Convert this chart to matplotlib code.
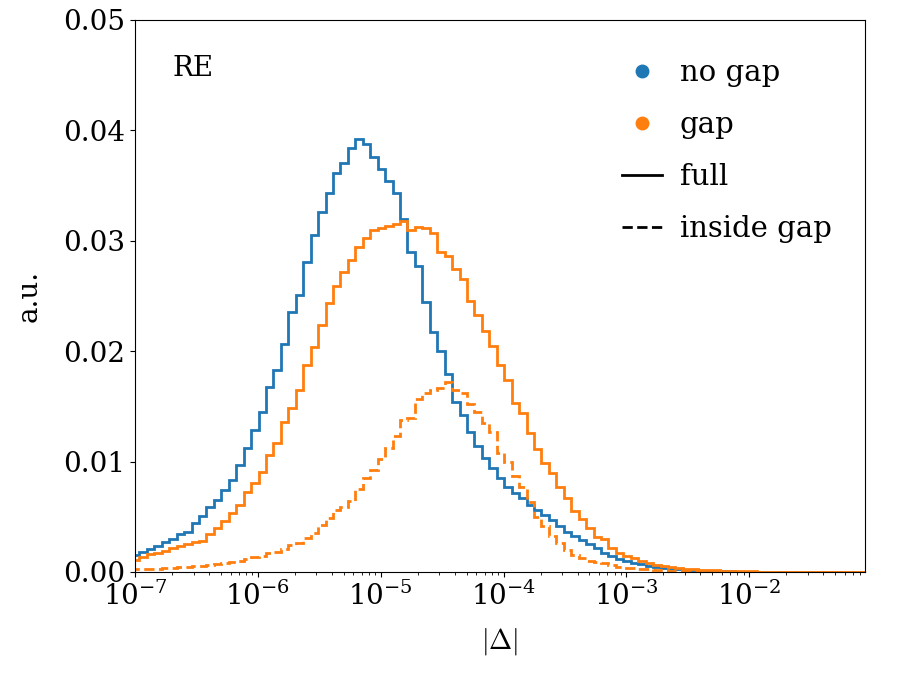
import numpy as np
import matplotlib
matplotlib.use("Agg")
import matplotlib.pyplot as plt
from matplotlib.lines import Line2D

plt.rcParams['font.family'] = ['DejaVu Serif']
plt.rcParams['mathtext.fontset'] = 'cm'
plt.rcParams['font.size'] = 20

# log10 bin edges of the histograms (99 bins)
LOG_EDGE_START = -7.024
LOG_EDGE_STEP = 0.06058
N_BINS = 99

# normalised counts per bin
no_gap_full = [
    0.00154, 0.00178, 0.00208, 0.00236, 0.00269, 0.00302, 0.00341, 0.00362, 0.00441, 0.00507,
    0.00591, 0.00649, 0.00747, 0.00829, 0.00965, 0.01120, 0.01284, 0.01447, 0.01678, 0.01830,
    0.02062, 0.02351, 0.02505, 0.02805, 0.03048, 0.03258, 0.03433, 0.03611, 0.03705, 0.03842,
    0.03918, 0.03877, 0.03756, 0.03648, 0.03542, 0.03436, 0.03195, 0.02901, 0.02769, 0.02443,
    0.02176, 0.01999, 0.01793, 0.01542, 0.01418, 0.01271, 0.01139, 0.01030, 0.00939, 0.00849,
    0.00770, 0.00713, 0.00668, 0.00607, 0.00562, 0.00516, 0.00471, 0.00417, 0.00365, 0.00326,
    0.00290, 0.00254, 0.00215, 0.00175, 0.00145, 0.00115, 0.00100, 0.00084, 0.00068, 0.00054,
    0.00043, 0.00036, 0.00030, 0.00024, 0.00020, 0.00016, 0.00013, 0.00010, 0.00008, 0.00006,
    0.00005, 0.00004, 0.00003, 0.00003, 0.00002, 0.00002, 0.00002, 0.00001, 0.00001, 0.00001,
    0.00001, 0.00001, 0.00001, 0.00000, 0.00000, 0.00000, 0.00000, 0.00000, 0.00000,
]

gap_full = [
    0.00109, 0.00139, 0.00160, 0.00175, 0.00190, 0.00215, 0.00236, 0.00250, 0.00268, 0.00283,
    0.00340, 0.00396, 0.00464, 0.00537, 0.00605, 0.00727, 0.00803, 0.00909, 0.01060, 0.01166,
    0.01363, 0.01483, 0.01644, 0.01875, 0.02035, 0.02237, 0.02434, 0.02591, 0.02720, 0.02826,
    0.02947, 0.03023, 0.03098, 0.03118, 0.03130, 0.03152, 0.03182, 0.03098, 0.03128, 0.03113,
    0.03068, 0.02901, 0.02862, 0.02742, 0.02651, 0.02457, 0.02328, 0.02186, 0.02050, 0.01878,
    0.01742, 0.01528, 0.01443, 0.01262, 0.01114, 0.00990, 0.00899, 0.00773, 0.00668, 0.00553,
    0.00477, 0.00396, 0.00320, 0.00296, 0.00215, 0.00175, 0.00149, 0.00124, 0.00100, 0.00079,
    0.00063, 0.00054, 0.00043, 0.00036, 0.00030, 0.00025, 0.00021, 0.00017, 0.00014, 0.00011,
    0.00009, 0.00007, 0.00006, 0.00005, 0.00004, 0.00003, 0.00003, 0.00002, 0.00002, 0.00002,
    0.00001, 0.00001, 0.00001, 0.00001, 0.00001, 0.00000, 0.00000, 0.00000, 0.00000,
]

gap_inside = [
    0.00023, 0.00024, 0.00027, 0.00030, 0.00034, 0.00036, 0.00041, 0.00045, 0.00052, 0.00057,
    0.00063, 0.00072, 0.00082, 0.00091, 0.00100, 0.00118, 0.00140, 0.00149, 0.00168, 0.00184,
    0.00208, 0.00240, 0.00263, 0.00305, 0.00351, 0.00426, 0.00486, 0.00562, 0.00591, 0.00643,
    0.00749, 0.00849, 0.00924, 0.01025, 0.01120, 0.01232, 0.01377, 0.01395, 0.01564, 0.01624,
    0.01649, 0.01664, 0.01724, 0.01649, 0.01624, 0.01522, 0.01452, 0.01352, 0.01271, 0.01082,
    0.00995, 0.00870, 0.00773, 0.00637, 0.00501, 0.00417, 0.00326, 0.00260, 0.00199, 0.00154,
    0.00124, 0.00102, 0.00093, 0.00079, 0.00063, 0.00048, 0.00039, 0.00032, 0.00027, 0.00023,
    0.00018, 0.00014, 0.00011, 0.00008, 0.00006, 0.00005, 0.00004, 0.00003, 0.00002, 0.00002,
    0.00001, 0.00001, 0.00001, 0.00000, 0.00000, 0.00000, 0.00000, 0.00000, 0.00000, 0.00000,
    0.00000, 0.00000, 0.00000, 0.00000, 0.00000, 0.00000, 0.00000, 0.00000, 0.00000,
]

edges = 10 ** (LOG_EDGE_START + LOG_EDGE_STEP * np.arange(N_BINS + 1))

fig = plt.figure(figsize=(9, 6.75), dpi=100)
ax = fig.add_axes([0.15, 0.1526, 0.8106, 0.8178])

ax.stairs(no_gap_full, edges, color='C0', lw=2)
ax.stairs(gap_full, edges, color='C1', lw=2)
ax.stairs(gap_inside, edges, color='C1', lw=2, ls='--')

ax.set_xscale('log')
ax.set_xlim(1e-7, 10 ** -1.0624)
ax.set_ylim(0, 0.05)
ax.set_yticks([0, 0.01, 0.02, 0.03, 0.04, 0.05])
ax.yaxis.set_major_formatter(matplotlib.ticker.FormatStrFormatter('%.2f'))
ax.set_xlabel(r'$|\Delta|$', labelpad=11)
ax.set_ylabel('a.u.', labelpad=15)
ax.text(0.052, 0.913, 'RE', transform=ax.transAxes, ha='left', va='center')

handles = [
    Line2D([], [], color='C0', marker='o', ls='none', markersize=9),
    Line2D([], [], color='C1', marker='o', ls='none', markersize=9),
    Line2D([], [], color='k', lw=2),
    Line2D([], [], color='k', lw=2, ls='--'),
]
labels = ['no gap', 'gap', 'full', 'inside gap']
ax.legend(handles, labels, loc='upper right', bbox_to_anchor=(0.971, 0.95),
          frameon=False, fontsize=21, handlelength=1.4, handletextpad=0.6,
          labelspacing=0.82, borderaxespad=0.0)

fig.savefig('out.png', dpi=100)
